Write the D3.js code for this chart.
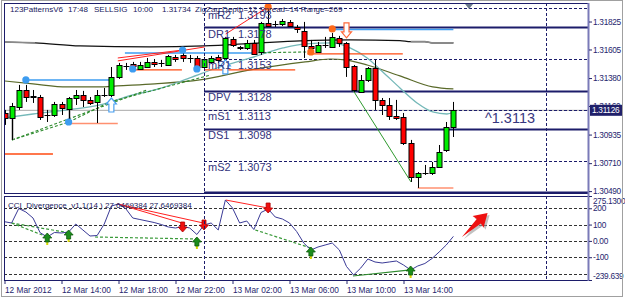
<!DOCTYPE html>
<html>
<head>
<meta charset="utf-8">
<script src="https://cdn.jsdelivr.net/npm/d3@7"></script>
<style>
  body { margin: 0; background: #fff; }
  svg { display: block; font-family: "Liberation Sans", Arial, sans-serif; }
</style>
</head>
<body>
<div id="chart"></div>
<script>
// 30 minute bars, 12 Mar 10:00 .. 13 Mar 17:30
var barOpen = [1.31105, 1.31066, 1.31152, 1.31286, 1.31239, 1.31231, 1.31089, 1.31089, 1.31176, 1.31137,
  1.31223, 1.31247, 1.31208, 1.31192, 1.31247, 1.31247, 1.31389, 1.31475, 1.31491, 1.31452,
  1.31467, 1.31507, 1.31499, 1.31483, 1.31546, 1.31562, 1.31538, 1.31538, 1.31467, 1.31507,
  1.31546, 1.31538, 1.31688, 1.31625, 1.31617, 1.31657, 1.31586, 1.31814, 1.31806, 1.31806,
  1.31822, 1.31782, 1.31751, 1.31633, 1.31586, 1.31641, 1.31625, 1.31696, 1.31657, 1.31475,
  1.31271, 1.31365, 1.31460, 1.31208, 1.31168, 1.31081, 1.31074, 1.30869, 1.30601, 1.30633,
  1.30633, 1.30680, 1.30814, 1.30995];
var barHigh = [1.31129, 1.31184, 1.31326, 1.31326, 1.31286, 1.31247, 1.31129, 1.31192, 1.31192, 1.31231,
  1.31286, 1.31279, 1.31231, 1.31286, 1.31302, 1.31467, 1.31499, 1.31499, 1.31507, 1.31507,
  1.31538, 1.31530, 1.31523, 1.31562, 1.31562, 1.31601, 1.31562, 1.31554, 1.31546, 1.31554,
  1.31562, 1.31704, 1.31704, 1.31633, 1.31680, 1.31680, 1.31822, 1.31940, 1.31830, 1.31845,
  1.31837, 1.31798, 1.31822, 1.31680, 1.31664, 1.31704, 1.31735, 1.31712, 1.31664, 1.31483,
  1.31404, 1.31467, 1.31523, 1.31223, 1.31223, 1.31208, 1.31105, 1.30893, 1.30640, 1.30696,
  1.30719, 1.30853, 1.31034, 1.31192];
var barLow = [1.31011, 1.30893, 1.31129, 1.31192, 1.31184, 1.31050, 1.31034, 1.31074, 1.31089, 1.31034,
  1.31168, 1.31152, 1.31168, 1.31026, 1.31231, 1.31231, 1.31373, 1.31444, 1.31452, 1.31444,
  1.31460, 1.31467, 1.31467, 1.31475, 1.31507, 1.31507, 1.31499, 1.31452, 1.31452, 1.31491,
  1.31499, 1.31523, 1.31625, 1.31601, 1.31601, 1.31562, 1.31562, 1.31782, 1.31782, 1.31790,
  1.31782, 1.31735, 1.31538, 1.31586, 1.31578, 1.31617, 1.31617, 1.31625, 1.31389, 1.31271,
  1.31263, 1.31349, 1.31129, 1.31089, 1.31050, 1.31050, 1.30853, 1.30562, 1.30515, 1.30617,
  1.30617, 1.30672, 1.30798, 1.30916];
var barClose = [1.31066, 1.31160, 1.31286, 1.31231, 1.31235, 1.31074, 1.31092, 1.31176, 1.31145, 1.31223,
  1.31247, 1.31208, 1.31184, 1.31247, 1.31250, 1.31389, 1.31483, 1.31478, 1.31475, 1.31483,
  1.31507, 1.31491, 1.31496, 1.31554, 1.31530, 1.31538, 1.31535, 1.31467, 1.31530, 1.31538,
  1.31523, 1.31696, 1.31641, 1.31617, 1.31657, 1.31570, 1.31814, 1.31790, 1.31803, 1.31830,
  1.31790, 1.31767, 1.31633, 1.31617, 1.31641, 1.31644, 1.31704, 1.31657, 1.31467, 1.31286,
  1.31365, 1.31460, 1.31208, 1.31168, 1.31081, 1.31066, 1.30869, 1.30601, 1.30633, 1.30636,
  1.30680, 1.30798, 1.30995, 1.31126];

// CCI(14) per bar
var cciValues = [117.6, 109.7, 198.5, 177.1, 140.3, 50.2, 23.9, 51.5, 48.4, 54.5,
  103.5, 66.8, 30.0, 33.0, 103.5, 213.8, 226.1, 198.5, 140.3, 131.1,
  121.9, 112.7, 100.5, 85.2, 79.0, 88.2, 79.0, 39.2, 97.4, 109.7,
  66.8, 250.6, 201.6, 109.7, 121.9, 69.8, 174.0, 195.5, 146.4, 134.2,
  109.7, 57.6, -12.9, -55.8, -37.4, -25.2, -12.9, -55.8, -156.9, -209.0,
  -166.1, -110.9, -129.3, -135.4, -129.3, -123.2, -147.7, -178.3, -153.8, -138.5,
  -107.9, -68.0, -25.2, 27.6469384];

// Axis ticks
var timeBars = [0, 8, 16, 24, 32, 40, 48, 56];
var timeLabels = ["12 Mar 2012", "12 Mar 14:00", "12 Mar 18:00", "12 Mar 22:00",
  "13 Mar 02:00", "13 Mar 06:00", "13 Mar 10:00", "13 Mar 14:00"];
var dayBreaks = [28, 76];
var priceTicks = [1.31825, 1.31605, 1.31380, 1.31160, 1.30935, 1.30710, 1.30490];
var bidPrice = 1.31126;
var cciTicks = [275.13, 200, 100, 0, -100, -239.639];
var cciTickLabels = ["275.1300", "200", "100", "0.00", "-100", "-239.639"];
var cciGrid = [200, 100, 0, -100, -200];

// Daily pivot levels
var pivotNames = ["mR2", "DR1", "mR1", "DPV", "mS1", "DS1", "mS2", "DS2"];
var pivotValues = [1.3193, 1.3178, 1.3153, 1.3128, 1.3113, 1.3098, 1.3073, 1.3048];
var pivotSolid = [false, true, false, true, false, true, false, true];

// Moving averages, [bar, price]
var maBlack = [[0, 1.31664], [4.3, 1.31657], [10.6, 1.31633], [20.4, 1.31625], [28, 1.31633], [35.9, 1.31657],
  [41.5, 1.31672], [48.5, 1.31680], [55.5, 1.31675], [57, 1.31667], [59, 1.31667], [60, 1.31657], [63, 1.31657]];
var maOlive = [[0, 1.31357], [4, 1.31334], [8.8, 1.31310], [13.4, 1.31310], [15.8, 1.31318], [21.1, 1.31334],
  [27.4, 1.31365], [34.5, 1.31444], [42.2, 1.31507], [45.7, 1.31530], [47.8, 1.31523], [50.9, 1.31483],
  [55.5, 1.31397], [60.1, 1.31310], [63, 1.31294]];
var maTeal = [[0, 1.31066], [4, 1.31097], [8.8, 1.31129], [13.4, 1.31168], [18, 1.31247], [21.1, 1.31286],
  [26, 1.31381], [30.2, 1.31467], [34.5, 1.31538], [39.1, 1.31617], [42.2, 1.31649], [46.1, 1.31657],
  [48.5, 1.31617], [50.9, 1.31538], [53.1, 1.31428], [55.5, 1.31302], [57.9, 1.31184], [60.1, 1.31113],
  [62.1, 1.31097], [63, 1.31113]];

// 123 pattern objects, [fromBar, toBar, price]
var blueLevels = [[3, 15.1, 1.31365], [16.9, 34.9, 1.31578], [46.1, 63, 1.31763]];
var orangeLevels = [[-0.2, 6.8, 1.30782], [18, 24.9, 1.31444], [28.1, 40.8, 1.31444], [42.5, 55.9, 1.31570]];
var salmonLevels = [[9.2, 15.9, 1.31022], [58, 63, 1.30515]];
var redLegs = [[[15.9, 1.31515], [28.1, 1.31625]], [[15.9, 1.31538], [25.05, 1.31601]], [[31.05, 1.31727], [37, 1.31940]]];
var greenDashLegs = [[[1.05, 1.30893], [9.05, 1.31034]], [[1.05, 1.30893], [20, 1.31286]],
  [[9.05, 1.31034], [14.8, 1.31192], [28.9, 1.31404]], [[34.9, 1.31578], [42.9, 1.31586]]];
var greenLeg = [[48.9, 1.31286], [57.05, 1.30562]];
var grayLegs = [[1, 1.31066, 1.30893], [9, 1.31137, 1.31034]];
var blueDots = [[3, 1.31365], [9, 1.31034], [18, 1.31452], [25, 1.31601], [27, 1.31452]];
var orangeDots = [[37, 1.31940], [43, 1.31586], [46, 1.31767]];
var buyArrows = [[15, 1.31223], [31, 1.31523]];
var sellArrows = [[48, 1.31696]];

// CCI divergence objects, [bar, cci]
var cciRedLegs = [[[15.9, 226.1], [24.9, 109.7]], [[15.9, 226.1], [27.9, 109.7]], [[31.05, 250.6], [37, 201.6]]];
var cciGreenDash = [[[1, 109.7], [6, 23.9]], [[1, 109.7], [9, 50]], [[12.7, 24], [27, 11.6]], [[35.2, 67], [43, -43.6]]];
var cciGreenLeg = [[48.9, -215], [57, -178]];
var cciBullArrows = [[6, 48.4], [9, 66.8], [27, 23.9], [43, -37.4], [57, -153.8]];
var cciBearArrows = [[25, 54.5], [28, 66.8], [37, 170.9]];
var bigArrow = [[64.2, 23.9], [67.8, 171]];

// Chart area
var svgWidth = 625;
var svgHeight = 298;
var main = { left: 4, right: 588, top: 3, bottom: 193 };
var sub = { left: 4, right: 588, top: 196, bottom: 280 };
var navy = "#1c1c6a";
var textColor = "#26266e";

var svg = d3.select("#chart")
  .append("svg")
  .attr("width", svgWidth)
  .attr("height", svgHeight);

svg.append("rect").attr("width", svgWidth).attr("height", svgHeight).attr("fill", "#fff");

var xScale = d3.scaleLinear().domain([0, 76]).range([4.5, 546]);
var yPrice = d3.scaleLinear().domain([1.30475, 1.31963]).range([main.bottom, 4]);
var yCci = d3.scaleLinear().domain([-239.639, 275.13]).range([sub.bottom, sub.top]);

var defs = svg.append("defs");
defs.append("clipPath").attr("id", "clipMain").append("rect")
  .attr("x", main.left).attr("y", main.top).attr("width", main.right - main.left).attr("height", main.bottom - main.top);
defs.append("clipPath").attr("id", "clipSub").append("rect")
  .attr("x", sub.left).attr("y", sub.top).attr("width", sub.right - sub.left).attr("height", sub.bottom - sub.top);

var mainG = svg.append("g").attr("clip-path", "url(#clipMain)");
var subG = svg.append("g").attr("clip-path", "url(#clipSub)");

var priceLine = d3.line().x(d => xScale(d[0])).y(d => yPrice(d[1]));
var smoothLine = d3.line().x(d => xScale(d[0])).y(d => yPrice(d[1])).curve(d3.curveMonotoneX);
var cciLine = d3.line().x(d => xScale(d[0])).y(d => yCci(d[1]));

// ---------- main panel ----------
// bid line
mainG.append("line")
  .attr("x1", main.left).attr("x2", main.right)
  .attr("y1", yPrice(bidPrice)).attr("y2", yPrice(bidPrice))
  .attr("stroke", "#a8a8a8");

// pivot lines
pivotValues.forEach(function(v, i) {
  mainG.append("line")
    .attr("x1", xScale(dayBreaks[0])).attr("x2", main.right)
    .attr("y1", Math.round(yPrice(v)) + 0.5).attr("y2", Math.round(yPrice(v)) + 0.5)
    .attr("stroke", navy)
    .attr("stroke-width", pivotSolid[i] ? 2 : 1)
    .attr("stroke-dasharray", pivotSolid[i] ? null : "3,2");
});

// day separators
dayBreaks.forEach(function(b) {
  [main, sub].forEach(function(p) {
    svg.append("line")
      .attr("x1", Math.round(xScale(b)) + 0.5).attr("x2", Math.round(xScale(b)) + 0.5)
      .attr("y1", p.top).attr("y2", p.bottom)
      .attr("stroke", navy).attr("stroke-dasharray", "3,2");
  });
});

// moving averages
mainG.append("path").datum(maOlive).attr("d", smoothLine)
  .attr("fill", "none").attr("stroke", "#5a6a2a").attr("stroke-width", 1.2);
mainG.append("path").datum(maTeal).attr("d", smoothLine)
  .attr("fill", "none").attr("stroke", "#74b8b8").attr("stroke-width", 1.3);
mainG.append("path").datum(maBlack).attr("d", smoothLine)
  .attr("fill", "none").attr("stroke", "#111").attr("stroke-width", 1.2);
mainG.append("path").datum(maBlack.slice(0, 2)).attr("d", smoothLine)
  .attr("fill", "none").attr("stroke", "#8a8a8a").attr("stroke-width", 1.6);
mainG.append("path").datum(maBlack.slice(9)).attr("d", smoothLine)
  .attr("fill", "none").attr("stroke", "#8a8a8a").attr("stroke-width", 1.8);

// horizontal pattern levels
function drawLevels(levels, color, width) {
  levels.forEach(function(l) {
    mainG.append("line")
      .attr("x1", xScale(l[0])).attr("x2", xScale(l[1]))
      .attr("y1", yPrice(l[2])).attr("y2", yPrice(l[2]))
      .attr("stroke", color).attr("stroke-width", width);
  });
}
drawLevels(blueLevels, "#3d9cf0", 1.5);
drawLevels(orangeLevels, "#ff4a10", 1.3);
drawLevels(salmonLevels, "#ff9070", 1.5);

// pattern legs
greenDashLegs.forEach(function(leg) {
  mainG.append("path").datum(leg).attr("d", priceLine)
    .attr("fill", "none").attr("stroke", "#2e8b2e").attr("stroke-width", 1.1).attr("stroke-dasharray", "3,2");
});
redLegs.forEach(function(leg) {
  mainG.append("path").datum(leg).attr("d", priceLine)
    .attr("fill", "none").attr("stroke", "#ff2020").attr("stroke-width", 1);
});
mainG.append("path").datum(greenLeg).attr("d", priceLine)
  .attr("fill", "none").attr("stroke", "#2e9a2e").attr("stroke-width", 1);
grayLegs.forEach(function(g) {
  mainG.append("line")
    .attr("x1", Math.round(xScale(g[0])) + 0.5).attr("x2", Math.round(xScale(g[0])) + 0.5)
    .attr("y1", yPrice(g[1])).attr("y2", yPrice(g[2]))
    .attr("stroke", "#909090").attr("stroke-width", 2);
});

// candles
var bars = d3.range(barOpen.length);
var candleG = mainG.append("g");
candleG.selectAll(".wick")
  .data(bars)
  .enter()
  .append("line")
  .attr("x1", i => Math.round(xScale(i)) + 0.5)
  .attr("x2", i => Math.round(xScale(i)) + 0.5)
  .attr("y1", i => yPrice(barHigh[i]))
  .attr("y2", i => yPrice(barLow[i]))
  .attr("stroke", "#000");
candleG.selectAll(".body")
  .data(bars)
  .enter()
  .append("rect")
  .attr("x", i => Math.round(xScale(i)) - 2)
  .attr("width", 5)
  .attr("y", i => Math.round(yPrice(Math.max(barOpen[i], barClose[i]))) + 0.5)
  .attr("height", i => Math.max(0.01, Math.round(yPrice(Math.min(barOpen[i], barClose[i])) - yPrice(Math.max(barOpen[i], barClose[i])))))
  .attr("fill", i => Math.abs(barClose[i] - barOpen[i]) < 0.00005 ? "#000" : (barClose[i] > barOpen[i] ? "#00ee00" : "#ff0000"))
  .attr("stroke", "#000");

// pattern points
mainG.selectAll(".bdot").data(blueDots).enter().append("circle")
  .attr("cx", d => xScale(d[0])).attr("cy", d => yPrice(d[1])).attr("r", 3.6).attr("fill", "#3d9cf0");
mainG.selectAll(".odot").data(orangeDots).enter().append("circle")
  .attr("cx", d => xScale(d[0])).attr("cy", d => yPrice(d[1])).attr("r", 3.6).attr("fill", "#ff6a1a");

// hollow signal arrows
var upArrow = "M0,0 L5,6 L2.5,6 L2.5,14 L-2.5,14 L-2.5,6 L-5,6 Z";
var downArrow = "M0,0 L5,-6 L2.5,-6 L2.5,-15 L-2.5,-15 L-2.5,-6 L-5,-6 Z";
mainG.selectAll(".buy").data(buyArrows).enter().append("path")
  .attr("d", upArrow)
  .attr("transform", d => `translate(${xScale(d[0])},${yPrice(d[1])})`)
  .attr("fill", "#fff").attr("stroke", "#4aa0f0").attr("stroke-width", 1.2);
mainG.selectAll(".sell").data(sellArrows).enter().append("path")
  .attr("d", downArrow)
  .attr("transform", d => `translate(${xScale(d[0])},${yPrice(d[1])})`)
  .attr("fill", "#fff").attr("stroke", "#ff6a3a").attr("stroke-width", 1.2);

// pivot labels
pivotValues.forEach(function(v, i) {
  var y = yPrice(v) + 10.5;
  mainG.append("text").attr("x", 208).attr("y", y).attr("font-size", "11px").attr("fill", "#34347c").text(pivotNames[i]);
  mainG.append("text").attr("x", 238).attr("y", y).attr("font-size", "11px").attr("fill", "#34347c").text(v.toFixed(4));
});

// indicator header
var header = [[10, "123PatternsV6"], [68, "17:48"], [94, "SELLSIG"], [133, "10:00"], [162, "1.31734"],
  [195, "ZigZag Depth=12 Spread=14  Range=269"]];
header.forEach(function(h) {
  mainG.append("text").attr("x", h[0]).attr("y", 12).attr("font-size", "8px").attr("fill", "#20205e").text(h[1]);
});

// current level label
mainG.append("text")
  .attr("x", 485).attr("y", yPrice(1.3113) + 13.5)
  .attr("font-size", "15.5px").attr("fill", "#36367e")
  .attr("textLength", 50).attr("lengthAdjust", "spacingAndGlyphs")
  .text("^1.3113");

// shift marker
var shiftX = xScale(65.2);
mainG.append("path")
  .attr("d", `M${shiftX - 4},4 L${shiftX + 4},4 L${shiftX},9 Z`)
  .attr("fill", "#6b7a8c");

// ---------- CCI panel ----------
cciGrid.forEach(function(v) {
  subG.append("line")
    .attr("x1", sub.left).attr("x2", sub.right)
    .attr("y1", Math.round(yCci(v)) + 0.5).attr("y2", Math.round(yCci(v)) + 0.5)
    .attr("stroke", "#333").attr("stroke-dasharray", "3,2");
});

cciGreenDash.forEach(function(leg) {
  subG.append("path").datum(leg).attr("d", cciLine)
    .attr("fill", "none").attr("stroke", "#3a9a3a").attr("stroke-width", 1.2).attr("stroke-dasharray", "3,2");
});
subG.append("path").datum(cciGreenLeg).attr("d", cciLine)
  .attr("fill", "none").attr("stroke", "#2e8b2e").attr("stroke-width", 1.2);
cciRedLegs.forEach(function(leg) {
  subG.append("path").datum(leg).attr("d", cciLine)
    .attr("fill", "none").attr("stroke", "#ff2020").attr("stroke-width", 1);
});

subG.append("path")
  .datum(cciValues.map((v, i) => [i, v]))
  .attr("d", cciLine)
  .attr("fill", "none").attr("stroke", "#3a3a96").attr("stroke-width", 1);

// divergence arrows
var bullShape = "M0,0 L4.5,5 L2,5 L2,9 L-2,9 L-2,5 L-4.5,5 Z";
var bearShape = "M0,0 L4.5,-5 L2,-5 L2,-10 L-2,-10 L-2,-5 L-4.5,-5 Z";
cciBullArrows.forEach(function(a) {
  var g = subG.append("g").attr("transform", `translate(${xScale(a[0])},${yCci(a[1])})`);
  g.append("rect").attr("x", -1).attr("y", 8).attr("width", 2).attr("height", 4).attr("fill", "#d8d800");
  g.append("path").attr("d", bullShape).attr("fill", "#1c8c1c").attr("stroke", "#0b5a0b").attr("stroke-width", 0.8);
});
cciBearArrows.forEach(function(a) {
  var g = subG.append("g").attr("transform", `translate(${xScale(a[0])},${yCci(a[1])})`);
  g.append("path").attr("d", bearShape).attr("fill", "#f01010").attr("stroke", "#b00000").attr("stroke-width", 0.8);
});

// red pointer arrow
var ax0 = xScale(bigArrow[0][0]), ay0 = yCci(bigArrow[0][1]);
var ax1 = xScale(bigArrow[1][0]), ay1 = yCci(bigArrow[1][1]);
var alen = Math.hypot(ax1 - ax0, ay1 - ay0);
var aang = Math.atan2(ay1 - ay0, ax1 - ax0) * 180 / Math.PI;
var arrowShape = `M0,0 L${alen - 12},-3 L${alen - 13},-8 L${alen},0 L${alen - 13},8 L${alen - 12},3 Z`;
subG.append("path").attr("d", arrowShape)
  .attr("transform", `translate(${ax0 + 2},${ay0 + 2}) rotate(${aang})`)
  .attr("fill", "#999").attr("opacity", 0.6);
subG.append("path").attr("d", arrowShape)
  .attr("transform", `translate(${ax0},${ay0}) rotate(${aang})`)
  .attr("fill", "#ee1111");

subG.append("text")
  .attr("x", 8).attr("y", 208)
  .attr("font-size", "8px").attr("fill", "#20205e")
  .text("CCI_Divergence_v1.1(14 ) 27.6469384 27.6469384");

// ---------- frames and axes ----------
[main, sub].forEach(function(p) {
  svg.append("rect")
    .attr("x", p.left + 0.5).attr("y", p.top + 0.5)
    .attr("width", p.right - p.left).attr("height", p.bottom - p.top)
    .attr("fill", "none").attr("stroke", navy);
});
svg.append("line")
  .attr("x1", main.right + 0.5).attr("x2", main.right + 0.5)
  .attr("y1", main.top).attr("y2", sub.bottom + 1)
  .attr("stroke", "#7a7ab8").attr("stroke-width", 2);

var priceAxis = d3.axisRight(yPrice)
  .tickValues(priceTicks)
  .tickFormat(d3.format(".5f"))
  .tickSize(3)
  .tickSizeOuter(0)
  .tickPadding(1);
var priceAxisG = svg.append("g")
  .attr("transform", `translate(${main.right + 1},0)`)
  .call(priceAxis);

var cciAxis = d3.axisRight(yCci)
  .tickValues(cciTicks)
  .tickFormat((d, i) => cciTickLabels[i])
  .tickSize(3)
  .tickSizeOuter(0)
  .tickPadding(1);
var cciAxisG = svg.append("g")
  .attr("transform", `translate(${sub.right + 1},0)`)
  .call(cciAxis);
cciAxisG.selectAll(".tick text").attr("dy", (d, i) => i === 0 ? "0.85em" : (i === cciTicks.length - 1 ? "-0.2em" : "0.32em"));

var timeAxis = d3.axisBottom(xScale)
  .tickValues(timeBars)
  .tickFormat((d, i) => timeLabels[i])
  .tickSize(3)
  .tickSizeOuter(0)
  .tickPadding(3);
var timeAxisG = svg.append("g")
  .attr("transform", `translate(0,${sub.bottom + 1})`)
  .call(timeAxis);
timeAxisG.selectAll(".tick text").attr("text-anchor", "start").attr("dx", "0");

[priceAxisG, cciAxisG, timeAxisG].forEach(function(g) {
  g.select(".domain").remove();
  g.selectAll(".tick line").attr("stroke", textColor);
  g.selectAll(".tick text").attr("fill", textColor).attr("font-size", "8.3px")
    .attr("font-family", "'Liberation Sans', Arial, sans-serif");
});
[priceAxisG, cciAxisG].forEach(function(g) {
  g.selectAll(".tick text").attr("letter-spacing", "-0.3px");
});

// bid price tag
var bidY = yPrice(bidPrice);
svg.append("rect")
  .attr("x", main.right + 2).attr("y", bidY - 5.5)
  .attr("width", 33).attr("height", 11)
  .attr("fill", "#20206a");
svg.append("text")
  .attr("x", main.right + 4).attr("y", bidY + 3)
  .attr("font-size", "8.3px").attr("letter-spacing", "-0.3px").attr("fill", "#fff")
  .text(bidPrice.toFixed(5));

// window border
svg.append("rect")
  .attr("x", 1.5).attr("y", 0.5).attr("width", 621).attr("height", 296)
  .attr("fill", "none").attr("stroke", "#a0a0a0");
</script>
</body>
</html>
